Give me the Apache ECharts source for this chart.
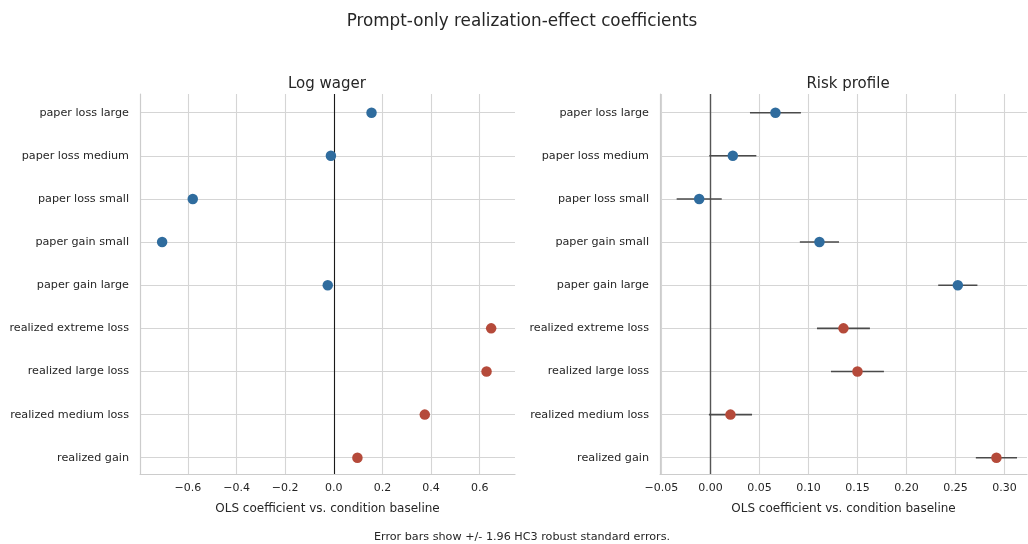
<!DOCTYPE html>
<html>
<head>
<meta charset="utf-8">
<script src="https://cdn.jsdelivr.net/npm/echarts@6/dist/echarts.min.js"></script>
<style>html,body{margin:0;padding:0;background:#fff}#c{width:1028px;height:544px}</style>
</head>
<body>
<div id="c"></div>
<script>
const categories = ["paper loss large","paper loss medium","paper loss small","paper gain small","paper gain large","realized extreme loss","realized large loss","realized medium loss","realized gain"];
const groups = ["paper","paper","paper","paper","paper","realized","realized","realized","realized"];
const wagerCoef = [0.155,-0.012,-0.58,-0.706,-0.025,0.647,0.628,0.374,0.097];
const wagerErr = [0.015,0.015,0.015,0.015,0.015,0.015,0.015,0.015,0.015];
const riskCoef = [0.0663,0.0228,-0.0115,0.1112,0.2524,0.1357,0.150,0.0204,0.2918];
const riskErr = [0.026,0.024,0.023,0.020,0.020,0.027,0.027,0.022,0.021];
const wagerTicks = [-0.6,-0.4,-0.2,0.0,0.2,0.4,0.6];
const riskTicks = [-0.05,0.00,0.05,0.10,0.15,0.20,0.25,0.30];

const colors = {paper:'#2f6c9e', realized:'#b54a3a'};
const txt = '#262626';
const font = 'DejaVu Sans';
const idx = categories.map((_, i) => i);

function fmt(v, d){ const s = Math.abs(v).toFixed(d); return (v < -1e-9 ? '\u2212' : '') + s; }

function points(coef){ return coef.map((v,i)=>({value:[v,i], itemStyle:{color:colors[groups[i]], opacity:1}})); }
function errs(coef, err){ return coef.map((v,i)=>[v-err[i], v+err[i], i]); }

function errSeries(g, coef, err){
  return {type:'custom', xAxisIndex:g, yAxisIndex:g, z:3, silent:true,
    data: errs(coef, err),
    renderItem:(params, api)=>{
      const a = api.coord([api.value(0), api.value(2)]);
      const b = api.coord([api.value(1), api.value(2)]);
      return {type:'line', shape:{x1:a[0],y1:a[1],x2:b[0],y2:b[1]}, style:{stroke:'#4a4a4a', lineWidth:1.6}};
    }};
}
function ptSeries(g, coef, zeroColor, zeroW){
  return {type:'scatter', xAxisIndex:g, yAxisIndex:g, z:4, symbolSize:10.5, data: points(coef),
    itemStyle:{opacity:1},
    markLine:{silent:true, symbol:'none', label:{show:false}, lineStyle:{color:zeroColor, width:zeroW, type:'solid'}, z:2,
      data:[{xAxis:0}]}};
}
function xAxis(g, min, max, ticks, dec){
  return {type:'value', gridIndex:g, min:min, max:max,
    name:'OLS coefficient vs. condition baseline', nameLocation:'middle', nameGap:29,
    nameTextStyle:{color:txt, fontSize:12, fontFamily:font},
    axisLine:{show:true, onZero:false, lineStyle:{color:'#cccccc', width:1.2}},
    axisTick:{show:false, customValues:ticks},
    axisLabel:{customValues:ticks, color:txt, fontSize:11, fontFamily:font, margin:9, formatter:v=>fmt(v,dec)},
    splitLine:{show:true, lineStyle:{color:'#d5d5d5', width:1.1}}};
}
function yAxis(g){
  return {type:'value', gridIndex:g, inverse:true, min:-0.433, max:8.377,
    axisLine:{show:true, onZero:false, lineStyle:{color:'#cccccc', width:1.2}},
    axisTick:{show:false, customValues:idx},
    axisLabel:{customValues:idx, color:txt, fontSize:11.2, fontFamily:font, margin:11, formatter:v=>categories[Math.round(v)]},
    splitLine:{show:true, lineStyle:{color:'#d5d5d5', width:1.1}}};
}

const chart = echarts.init(document.getElementById('c'), null, {renderer:'canvas'});
chart.setOption({
  backgroundColor:'#ffffff',
  animation:false,
  title:[
    {text:'Prompt-only realization-effect coefficients', left:517, top:8, textAlign:'center', textStyle:{color:txt, fontSize:16.8, fontWeight:'normal', fontFamily:font}},
    {text:'Log wager', left:322, top:72, textAlign:'center', textStyle:{color:txt, fontSize:15, fontWeight:'normal', fontFamily:font}},
    {text:'Risk profile', left:843, top:72, textAlign:'center', textStyle:{color:txt, fontSize:15, fontWeight:'normal', fontFamily:font}},
    {text:'Error bars show +/- 1.96 HC3 robust standard errors.', left:517, top:527, textAlign:'center', textStyle:{color:txt, fontSize:11.2, fontWeight:'normal', fontFamily:font}}
  ],
  grid:[
    {left:140, right:513, top:94, bottom:70},
    {left:660, right:1, top:94, bottom:70}
  ],
  xAxis:[xAxis(0, -0.797, 0.745, wagerTicks, 1), xAxis(1, -0.0515, 0.323, riskTicks, 2)],
  yAxis:[yAxis(0), yAxis(1)],
  series:[
    errSeries(0, wagerCoef, wagerErr),
    ptSeries(0, wagerCoef, '#1a1a1a', 1.1),
    errSeries(1, riskCoef, riskErr),
    ptSeries(1, riskCoef, '#555555', 1.4)
  ]
});
</script>
</body>
</html>
